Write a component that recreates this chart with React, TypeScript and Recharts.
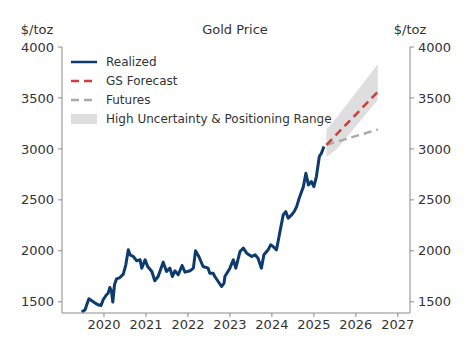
import React from "react";
import {
  ComposedChart,
  Line,
  Area,
  XAxis,
  YAxis,
} from "recharts";

// realized gold price (decimal year, $/toz)
const realizedYears = [
  2019.47, 2019.55, 2019.59, 2019.64, 2019.71, 2019.79, 2019.86, 2019.93, 2019.98,
  2020.06, 2020.1, 2020.14, 2020.18, 2020.21, 2020.25, 2020.3, 2020.38, 2020.46,
  2020.52, 2020.58, 2020.62, 2020.7, 2020.78, 2020.86, 2020.9, 2020.98, 2021.04,
  2021.14, 2021.21, 2021.29, 2021.41, 2021.49, 2021.57, 2021.63, 2021.69, 2021.77,
  2021.86, 2021.93, 2022.05, 2022.13, 2022.18, 2022.26, 2022.36, 2022.48, 2022.52,
  2022.6, 2022.64, 2022.72, 2022.8, 2022.86, 2022.88, 2023.0, 2023.08, 2023.14,
  2023.24, 2023.32, 2023.4, 2023.52, 2023.6, 2023.67, 2023.75, 2023.81, 2023.91,
  2023.97, 2024.03, 2024.11, 2024.17, 2024.27, 2024.33, 2024.39, 2024.47, 2024.53,
  2024.59, 2024.65, 2024.75, 2024.81, 2024.87, 2024.94, 2025.0, 2025.06, 2025.13,
  2025.18, 2025.24,
];
const realizedPrice = [
  1399, 1422, 1471, 1529, 1510, 1487, 1471, 1464, 1520,
  1569, 1585, 1640, 1601, 1497, 1667, 1725, 1738, 1771,
  1863, 2010, 1961, 1944, 1902, 1912, 1830, 1912, 1846,
  1797, 1706, 1748, 1889, 1797, 1830, 1748, 1804, 1765,
  1856, 1791, 1804, 1830, 2000, 1944, 1846, 1830, 1781,
  1781, 1748, 1699, 1650, 1683, 1748, 1830, 1912, 1830,
  1993, 2026, 1977, 1944, 1961, 1928, 1830, 1961, 2010,
  2059, 2042, 2010, 2140, 2353, 2385, 2320, 2353, 2385,
  2434, 2517, 2630, 2761, 2647, 2680, 2630, 2729, 2925,
  2958, 3023,
];

// forecasts
const forecastYears = [2025.3, 2026.52];
const gsForecast = [3040, 3560];
const futures = [3040, 3190];

// uncertainty band
const bandYears = [2025.3, 2025.55, 2026.52];
const bandLow = [2920, 3000, 3480];
const bandHigh = [3190, 3310, 3830];

const yTicks = [1500, 2000, 2500, 3000, 3500, 4000];
const xTicks = [2020, 2021, 2022, 2023, 2024, 2025, 2026, 2027];

const data = [
  ...realizedYears.map((x, i) => ({ x, realized: realizedPrice[i] })),
  ...bandYears.map((x, i) => ({ x, band: [bandLow[i], bandHigh[i]] })),
  ...forecastYears.map((x, i) => ({ x, gs: gsForecast[i], futures: futures[i] })),
].sort((a, b) => a.x - b.x);

const FONT = "'DejaVu Sans', sans-serif";
const AXIS = "#8a8a8a";
const TEXT = "#333";

const legendItems = [
  { label: "Realized", kind: "line", color: "#0d3b6e", dash: undefined },
  { label: "GS Forecast", kind: "line", color: "#c8413c", dash: "8 5" },
  { label: "Futures", kind: "line", color: "#aaaaaa", dash: "8 5" },
  { label: "High Uncertainty & Positioning Range", kind: "box", color: "#dedede" },
];

function LegendBox() {
  return (
    <div style={{ position: "absolute", left: 70, top: 52, fontFamily: FONT, fontSize: 12, color: TEXT, zIndex: 2 }}>
      {legendItems.map((it) => (
        <div key={it.label} style={{ display: "flex", alignItems: "center", height: 19 }}>
          <svg width={28} height={12} style={{ marginRight: 8 }}>
            {it.kind === "line" ? (
              <line x1={1} y1={6} x2={27} y2={6} stroke={it.color} strokeWidth={2.5} strokeDasharray={it.dash} />
            ) : (
              <rect x={1} y={1} width={26} height={10} fill={it.color} />
            )}
          </svg>
          <span>{it.label}</span>
        </div>
      ))}
    </div>
  );
}

export default function App() {
  const tick = { fontSize: 13, fill: TEXT, fontFamily: FONT };
  return (
    <div style={{ position: "absolute", left: 0, top: 0, width: 466, height: 356, background: "#fff" }}>
      <div style={{ position: "absolute", left: 0, width: 74, top: 22, textAlign: "center", fontFamily: FONT, fontSize: 13, color: TEXT }}>$/toz</div>
      <div style={{ position: "absolute", left: 135, width: 200, top: 22, textAlign: "center", fontFamily: FONT, fontSize: 13, color: TEXT }}>Gold Price</div>
      <div style={{ position: "absolute", left: 380, width: 60, top: 22, textAlign: "center", fontFamily: FONT, fontSize: 13, color: TEXT }}>$/toz</div>
      <LegendBox />
      <ComposedChart
        width={466}
        height={356}
        data={data}
        margin={{ top: 47, right: 0, bottom: 0, left: 0 }}
      >
        <XAxis
          dataKey="x"
          type="number"
          domain={[2019, 2027.29]}
          ticks={xTicks}
          allowDataOverflow
          height={43}
          tick={tick}
          tickSize={4}
          tickMargin={3}
          stroke={AXIS}
        />
        <YAxis
          yAxisId="left"
          type="number"
          domain={[1390, 4000]}
          ticks={yTicks}
          allowDataOverflow
          width={62}
          tick={tick}
          tickSize={4}
          tickMargin={4}
          stroke={AXIS}
        />
        <YAxis
          yAxisId="right"
          orientation="right"
          type="number"
          domain={[1390, 4000]}
          ticks={yTicks}
          allowDataOverflow
          width={56}
          tick={tick}
          tickSize={4}
          tickMargin={4}
          stroke={AXIS}
        />
        <Area
          yAxisId="left"
          dataKey="band"
          fill="#dedede"
          fillOpacity={1}
          stroke="none"
          connectNulls
          isAnimationActive={false}
        />
        <Line
          yAxisId="right"
          dataKey="futures"
          stroke="#aaaaaa"
          strokeWidth={2.5}
          strokeDasharray="8 5"
          dot={false}
          connectNulls
          isAnimationActive={false}
        />
        <Line
          yAxisId="left"
          dataKey="gs"
          stroke="#c8413c"
          strokeWidth={2.5}
          strokeDasharray="8 5"
          dot={false}
          connectNulls
          isAnimationActive={false}
        />
        <Line
          yAxisId="left"
          dataKey="realized"
          stroke="#0d3b6e"
          strokeWidth={3}
          strokeLinejoin="round"
          dot={false}
          isAnimationActive={false}
        />
      </ComposedChart>
    </div>
  );
}
